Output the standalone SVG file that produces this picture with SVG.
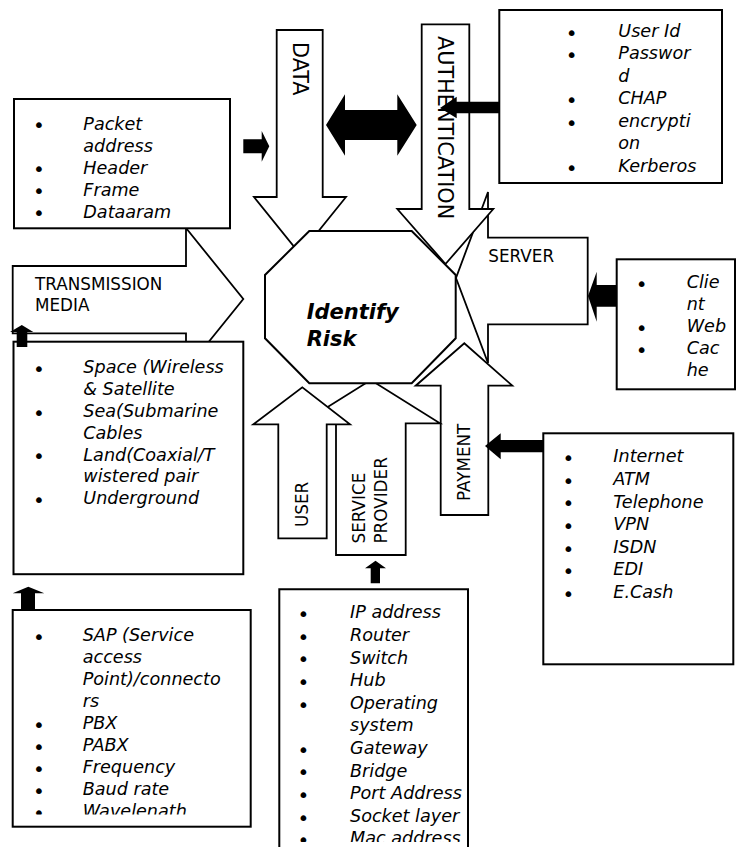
<svg xmlns="http://www.w3.org/2000/svg" width="739" height="847" viewBox="0 0 739 847">
  <defs>
    <style>
      .box { fill: #fff; stroke: #000; stroke-width: 2; }
      .arw { fill: #fff; stroke: #000; stroke-width: 1.8; stroke-linejoin: miter; }
      .blk { fill: #000; stroke: none; }
      .li { font-family: "DejaVu Sans", Verdana, sans-serif; font-style: italic; font-size: 17.6px; fill: #000; }
      .bu { font-family: "DejaVu Sans", sans-serif; font-size: 20px; fill: #000; text-anchor: middle; }
      .lbl { font-family: "DejaVu Sans", Verdana, sans-serif; font-size: 16.8px; fill: #000; }
      .vbig { font-family: "DejaVu Sans", Verdana, sans-serif; font-size: 20.8px; fill: #000; }
      .core { font-family: "DejaVu Sans", Verdana, sans-serif; font-style: italic; font-weight: bold; font-size: 21px; fill: #000; }
    </style>
    <clipPath id="clip-sap"><rect x="12" y="612" width="238" height="202.5"/></clipPath>
    <clipPath id="clip-net"><rect x="280" y="590" width="188" height="252"/></clipPath>
  </defs>

  <!-- block arrows feeding the central octagon -->
  <g id="arrow-data">
    <polygon class="arw" points="276.7,30 322.7,30 322.7,197 346,197 300,254 254,197 276.7,197"/>
    <text class="vbig" transform="translate(292.5,42) rotate(90)">DATA</text>
  </g>
  <g id="arrow-server">
    <polygon class="arw" points="587.7,237.7 587.7,324.3 488,324.3 488,363 456,278 488,192 488,237.7"/>
    <text class="lbl" x="488.3" y="261.7">SERVER</text>
  </g>
  <g id="arrow-authentication">
    <polygon class="arw" points="421.7,24.3 469.3,24.3 469.3,209 493.3,209 445.5,264 397.3,209 421.7,209"/>
    <text class="vbig" transform="translate(437.5,36) rotate(90)">AUTHENTICATION</text>
  </g>
  <g id="arrow-payment">
    <polygon class="arw" points="440.7,515 440.7,385.7 415.7,385.7 464.3,343.3 512.3,385.7 488.3,385.7 488.3,515"/>
    <text class="lbl" transform="translate(470,501) rotate(-90)">PAYMENT</text>
  </g>
  <g id="arrow-service-provider">
    <polygon class="arw" points="336,555 336,423.3 301.6,423.3 370.8,380 440,423.3 405.7,423.3 405.7,555"/>
    <text class="lbl" transform="translate(365,543.5) rotate(-90)">
      <tspan x="0" y="0">SERVICE</tspan>
      <tspan x="0" y="21.7">PROVIDER</tspan>
    </text>
  </g>
  <g id="arrow-user">
    <polygon class="arw" points="278.3,538.3 278.3,424.3 253.3,424.3 302.3,387.3 350,424.3 326.7,424.3 326.7,538.3"/>
    <text class="lbl" transform="translate(308,527) rotate(-90)">USER</text>
  </g>
  <g id="arrow-transmission">
    <polygon class="arw" points="12.7,266 186,266 186,228 243.3,299 186,370 186,333.3 12.7,333.3"/>
    <text class="lbl" x="35" y="290">TRANSMISSION</text>
    <text class="lbl" x="35" y="311">MEDIA</text>
  </g>

  <!-- central node -->
  <g id="identify-risk">
    <polygon class="box" points="309.3,231 411.7,231 455.7,275 455.7,338.3 411.7,383.3 309.3,383.3 265,338.3 265,275"/>
    <text class="core" x="306.7" y="319">Identify</text>
    <text class="core" x="306.7" y="346">Risk</text>
  </g>

  <!-- detail lists -->
  <g id="list-packet">
    <rect class="box" x="14" y="99" width="216" height="129.3"/>
    <text class="bu" x="39" y="132.4">•</text>
    <text class="li" x="83.3" y="129.5">Packet</text>
    <text class="li" x="83.3" y="151.5">address</text>
    <text class="bu" x="39" y="176.4">•</text>
    <text class="li" x="83.3" y="173.5">Header</text>
    <text class="bu" x="39" y="198.4">•</text>
    <text class="li" x="83.3" y="195.5">Frame</text>
    <text class="bu" x="39" y="220.4">•</text>
    <text class="li" x="83.3" y="217.5">Dataaram</text>
  </g>

  <g id="list-media">
    <rect class="box" x="13.5" y="341.7" width="229.8" height="232.5"/>
    <text class="bu" x="39" y="376.2">•</text>
    <text class="li" x="83.3" y="373.3">Space (Wireless</text>
    <text class="li" x="83.3" y="395.1">&amp; Satellite</text>
    <text class="bu" x="39" y="419.8">•</text>
    <text class="li" x="83.3" y="416.9">Sea(Submarine</text>
    <text class="li" x="83.3" y="438.7">Cables</text>
    <text class="bu" x="39" y="463.4">•</text>
    <text class="li" x="83.3" y="460.5">Land(Coaxial/T</text>
    <text class="li" x="83.3" y="482.3">wistered pair</text>
    <text class="bu" x="39" y="507">•</text>
    <text class="li" x="83.3" y="504.1">Underground</text>
  </g>

  <g id="list-access">
    <rect class="box" x="12.7" y="610" width="238" height="216.7"/>
    <g clip-path="url(#clip-sap)">
      <text class="bu" x="39" y="643.9">•</text>
      <text class="li" x="82.7" y="641">SAP (Service</text>
      <text class="li" x="82.7" y="663">access</text>
      <text class="li" x="82.7" y="685">Point)/connecto</text>
      <text class="li" x="82.7" y="707">rs</text>
      <text class="bu" x="39" y="731.9">•</text>
      <text class="li" x="82.7" y="729">PBX</text>
      <text class="bu" x="39" y="753.9">•</text>
      <text class="li" x="82.7" y="751">PABX</text>
      <text class="bu" x="39" y="775.9">•</text>
      <text class="li" x="82.7" y="773">Frequency</text>
      <text class="bu" x="39" y="797.9">•</text>
      <text class="li" x="82.7" y="795">Baud rate</text>
      <text class="bu" x="39" y="819.9">•</text>
      <text class="li" x="82.7" y="817">Wavelenath</text>
    </g>
  </g>

  <g id="list-auth">
    <rect class="box" x="499.3" y="10" width="222.7" height="173"/>
    <text class="bu" x="571.7" y="39.6">•</text>
    <text class="li" x="618.3" y="36.7">User Id</text>
    <text class="bu" x="571.7" y="62.1">•</text>
    <text class="li" x="618.3" y="59.2">Passwor</text>
    <text class="li" x="618.3" y="81.7">d</text>
    <text class="bu" x="571.7" y="107.1">•</text>
    <text class="li" x="618.3" y="104.2">CHAP</text>
    <text class="bu" x="571.7" y="129.6">•</text>
    <text class="li" x="618.3" y="126.7">encrypti</text>
    <text class="li" x="618.3" y="149.2">on</text>
    <text class="bu" x="571.7" y="174.6">•</text>
    <text class="li" x="618.3" y="171.7">Kerberos</text>
  </g>

  <g id="list-server">
    <rect class="box" x="616.7" y="259.3" width="118.3" height="130"/>
    <text class="bu" x="641.7" y="291.2">•</text>
    <text class="li" x="686.7" y="288.3">Clie</text>
    <text class="li" x="686.7" y="310.3">nt</text>
    <text class="bu" x="641.7" y="335.2">•</text>
    <text class="li" x="686.7" y="332.3">Web</text>
    <text class="bu" x="641.7" y="357.2">•</text>
    <text class="li" x="686.7" y="354.3">Cac</text>
    <text class="li" x="686.7" y="376.3">he</text>
  </g>

  <g id="list-payment">
    <rect class="box" x="543.3" y="433.3" width="190" height="231"/>
    <text class="bu" x="568.3" y="465.2">•</text>
    <text class="li" x="613.3" y="462.3">Internet</text>
    <text class="bu" x="568.3" y="487.8">•</text>
    <text class="li" x="613.3" y="484.9">ATM</text>
    <text class="bu" x="568.3" y="510.4">•</text>
    <text class="li" x="613.3" y="507.5">Telephone</text>
    <text class="bu" x="568.3" y="533">•</text>
    <text class="li" x="613.3" y="530.1">VPN</text>
    <text class="bu" x="568.3" y="555.6">•</text>
    <text class="li" x="613.3" y="552.7">ISDN</text>
    <text class="bu" x="568.3" y="578.2">•</text>
    <text class="li" x="613.3" y="575.3">EDI</text>
    <text class="bu" x="568.3" y="600.8">•</text>
    <text class="li" x="613.3" y="597.9">E.Cash</text>
  </g>

  <g id="list-network">
    <path class="box" d="M279.3,860 V589.3 H468 V860"/>
    <g clip-path="url(#clip-net)">
      <text class="bu" x="303.3" y="621.2">•</text>
      <text class="li" x="350" y="618.3">IP address</text>
      <text class="bu" x="303.3" y="643.8">•</text>
      <text class="li" x="350" y="640.9">Router</text>
      <text class="bu" x="303.3" y="666.4">•</text>
      <text class="li" x="350" y="663.5">Switch</text>
      <text class="bu" x="303.3" y="689">•</text>
      <text class="li" x="350" y="686.1">Hub</text>
      <text class="bu" x="303.3" y="711.6">•</text>
      <text class="li" x="350" y="708.7">Operating</text>
      <text class="li" x="350" y="731.3">system</text>
      <text class="bu" x="303.3" y="756.8">•</text>
      <text class="li" x="350" y="753.9">Gateway</text>
      <text class="bu" x="303.3" y="779.4">•</text>
      <text class="li" x="350" y="776.5">Bridge</text>
      <text class="bu" x="303.3" y="802">•</text>
      <text class="li" x="350" y="799.1">Port Address</text>
      <text class="bu" x="303.3" y="824.6">•</text>
      <text class="li" x="350" y="821.7">Socket layer</text>
      <text class="bu" x="303.3" y="847.2">•</text>
      <text class="li" x="350" y="844.3">Mac address</text>
    </g>
  </g>

  <!-- solid connector arrows -->
  <g id="connectors">
    <polygon class="blk" points="243.3,139.3 261.7,139.3 261.7,131 269.3,146.3 261.7,161.7 261.7,153.3 243.3,153.3"/>
    <polygon class="blk" points="326,125 345,94.3 345,110 397.3,110 397.3,94.3 416.7,125 397.3,155.7 397.3,140 345,140 345,155.7"/>
    <polygon class="blk" points="499.3,101.7 456.7,101.7 456.7,96.7 440,108 456.7,118.3 456.7,113.3 499.3,113.3"/>
    <polygon class="blk" points="616.7,285 596.7,285 596.7,271.7 588,296 596.7,321.7 596.7,306.7 616.7,306.7"/>
    <polygon class="blk" points="543.3,440 500.7,440 500.7,433.3 485,446 500.7,459.3 500.7,452.3 543.3,452.3"/>
    <polygon class="blk" points="16.7,347 16.7,332 10,332 21.8,325 33.3,332 27.3,332 27.3,347"/>
    <polygon class="blk" points="21,610 21,593.3 12.7,593.3 28.3,586.7 44.3,593.3 35,593.3 35,610"/>
    <polygon class="blk" points="370.7,583.3 370.7,568.3 365,568.3 375.5,560.7 386,568.3 380,568.3 380,583.3"/>
  </g>
</svg>
